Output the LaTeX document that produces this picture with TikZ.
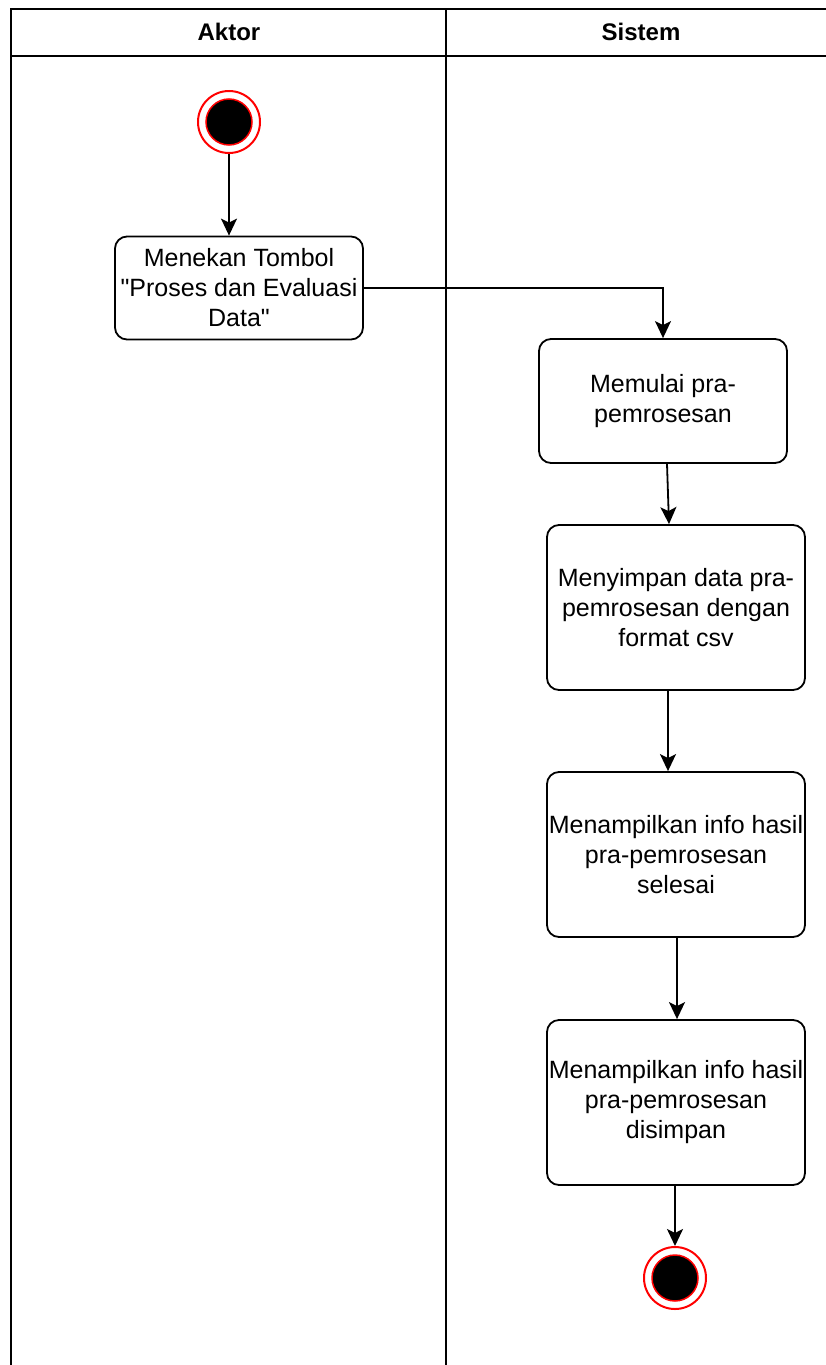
\documentclass[tikz,border=0pt]{standalone}
\usepackage{fontspec}
\setmainfont{Liberation Sans}[Ligatures=TeXOff]
\usetikzlibrary{arrows.meta,calc}

\tikzset{
  lane/.style={line width=2pt, draw=black},
  actbox/.style={draw=black, line width=1.8pt, rounded corners=12pt, align=center,
    inner sep=0pt, font=\fontsize{25}{30}\selectfont},
  flow/.style={line width=1.8pt, -{Stealth[length=17pt, width=16pt, inset=4pt]}},
  ring/.style={circle, draw=red, line width=2pt, fill=white, minimum size=62pt, inner sep=0pt},
  core/.style={circle, draw=red, line width=1.5pt, fill=black, minimum size=46pt, inner sep=0pt},
  lanehead/.style={font=\bfseries\fontsize{24}{28}\selectfont}
}

\begin{document}
\begin{tikzpicture}[x=1pt, y=-1pt]
  \useasboundingbox (0,0) rectangle (826,1365);
  \fill[white] (0,0) rectangle (826,1365);

  % swimlane frame
  \draw[lane] (11,1370) -- (11,9) -- (830,9);
  \draw[lane] (11,56) -- (830,56);
  \draw[lane] (446,9) -- (446,1370);
  \node[lanehead] (hA) at (229,32) {Aktor};
  \node[lanehead] (hS) at (641,32) {Sistem};

  % initial node
  \node[ring] (start) at (229,122) {};
  \node[core] (startc) at (229,122) {};

  % actions
  \node[actbox, minimum width=248pt, minimum height=103pt] (b1) at (239,288)
    {Menekan Tombol\\"Proses dan Evaluasi\\Data"};
  \node[actbox, minimum width=248pt, minimum height=124pt] (b2) at (663,401)
    {Memulai pra-\\pemrosesan};
  \node[actbox, minimum width=258pt, minimum height=165pt] (b3) at (676,607.5)
    {Menyimpan data pra-\\pemrosesan dengan\\format csv};
  \node[actbox, minimum width=258pt, minimum height=165pt] (b4) at (676,854.5)
    {Menampilkan info hasil\\pra-pemrosesan\\selesai};
  \node[actbox, minimum width=258pt, minimum height=165pt] (b5) at (676,1102.5)
    {Menampilkan info hasil\\pra-pemrosesan\\disimpan};

  % final node
  \node[ring] (stop) at (675,1278) {};
  \node[core] (stopc) at (675,1278) {};

  % control flow
  \draw[flow] (start.south) -- (start.south |- b1.north);
  \draw[flow, line width=1.5pt] (b1.east) -| (b2.north);
  \draw[flow] ($(b2.south)+(4,0)$) -- ($(b3.north)+(-7,0)$);
  \draw[flow] ($(b3.south)+(-8,0)$) -- ($(b4.north)+(-8,0)$);
  \draw[flow] ($(b4.south)+(1,0)$) -- ($(b5.north)+(1,0)$);
  \draw[flow] ($(b5.south)+(-1,0)$) -- (stop.north);
\end{tikzpicture}
\end{document}
